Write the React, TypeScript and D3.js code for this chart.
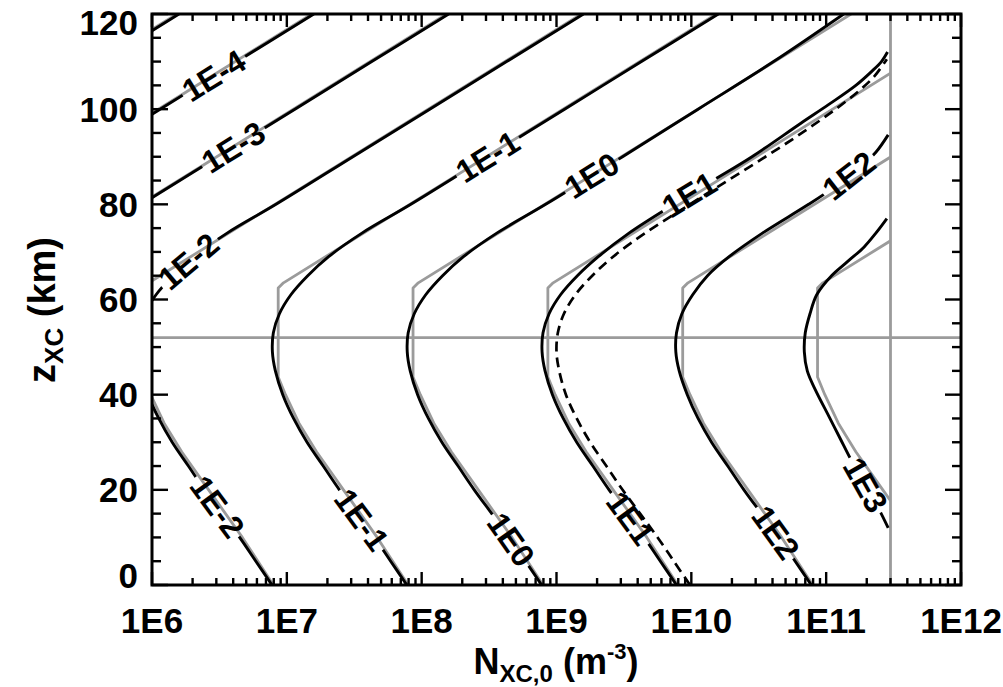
import React from "react";
import * as d3 from "d3";

type P = [number, number]; // [z (km), log10 N (m^-3)]

const X_TICKS = [1e6, 1e7, 1e8, 1e9, 1e10, 1e11, 1e12];
const X_TICK_LABELS = ["1E6", "1E7", "1E8", "1E9", "1E10", "1E11", "1E12"];
const Y_TICKS = [0, 20, 40, 60, 80, 100, 120];
const Y_TICK_LABELS = ["0", "20", "40", "60", "80", "100", "120"];

const N_LIMIT = 3.0e11; // vertical gray line
const Z_LINE = 52; // horizontal gray line

// Black contours (solid)
const BLACK_1Em5: P[] = [[104, 5.29], [110, 5.63], [120, 6.2]];
const BLACK_1Em4: P[] = [[94, 5.72], [100, 6.06], [110, 6.63], [120, 7.2]];
const BLACK_1Em3: P[] = [[74, 5.56], [80, 5.92], [90, 6.49], [100, 7.06], [110, 7.63], [120, 8.2]];
const BLACK_1Em2: P[] = [[0, 6.89], [5, 6.77], [10, 6.65], [15, 6.52], [20, 6.39], [25, 6.27], [30, 6.15], [35, 6.05], [40, 5.97], [45, 5.915], [49, 5.893], [53, 5.9], [57, 5.945], [61, 6.03], [65, 6.155], [69, 6.31], [74, 6.56], [80, 6.92], [90, 7.49], [100, 8.06], [110, 8.63], [120, 9.2]];
const BLACK_1Em1: P[] = [[0, 7.89], [5, 7.77], [10, 7.65], [15, 7.52], [20, 7.39], [25, 7.27], [30, 7.15], [35, 7.05], [40, 6.97], [45, 6.915], [49, 6.893], [53, 6.9], [57, 6.945], [61, 7.03], [65, 7.155], [69, 7.31], [74, 7.56], [80, 7.92], [90, 8.49], [100, 9.06], [110, 9.63], [120, 10.2]];
const BLACK_1E0: P[] = [[0, 8.89], [5, 8.77], [10, 8.65], [15, 8.52], [20, 8.39], [25, 8.27], [30, 8.15], [35, 8.05], [40, 7.97], [45, 7.915], [49, 7.893], [53, 7.9], [57, 7.945], [61, 8.03], [65, 8.155], [69, 8.31], [74, 8.56], [80, 8.92], [90, 9.49], [100, 10.05], [110, 10.61], [120, 11.13]];
const BLACK_1E1: P[] = [[0, 9.89], [5, 9.77], [10, 9.65], [15, 9.52], [20, 9.39], [25, 9.27], [30, 9.15], [35, 9.05], [40, 8.97], [45, 8.915], [49, 8.893], [53, 8.9], [57, 8.945], [61, 9.03], [65, 9.155], [69, 9.31], [74, 9.54], [80, 9.87], [85, 10.16], [90, 10.45], [97, 10.81], [101, 11.02], [105, 11.22], [108, 11.34], [110, 11.41], [112, 11.455]];
const BLACK_1E2: P[] = [[0, 10.89], [5, 10.77], [10, 10.65], [15, 10.52], [20, 10.39], [25, 10.27], [30, 10.15], [35, 10.05], [40, 9.97], [45, 9.91], [49, 9.885], [53, 9.89], [57, 9.93], [61, 10.01], [65, 10.12], [69, 10.28], [74, 10.53], [80, 10.87], [84, 11.08], [88, 11.26], [91, 11.37], [94.6, 11.46]];
const BLACK_1E3: P[] = [[12, 11.46], [16, 11.39], [21, 11.29], [26, 11.19], [31, 11.1], [36, 11.01], [41, 10.92], [45, 10.86], [49, 10.838], [53, 10.845], [57, 10.88], [61, 10.93], [65, 11.04], [68, 11.16], [71, 11.28], [74, 11.37], [77, 11.45]];

// Dashed contour (1E1 variant)
const DASHED_1E1: P[] = [[0, 9.99], [5, 9.87], [10, 9.75], [15, 9.62], [20, 9.49], [25, 9.37], [30, 9.25], [35, 9.15], [40, 9.07], [45, 9.02], [49, 9.0], [53, 9.01], [57, 9.055], [61, 9.14], [65, 9.265], [69, 9.42], [74, 9.66], [80, 9.99], [85, 10.27], [90, 10.55], [95, 10.82], [100, 11.07], [104, 11.25], [107, 11.36], [110.5, 11.45]];

// Gray (approximate) contours
const GRAY_1Em5: P[] = [[100, 5.049], [120, 6.185]];
const GRAY_1Em4: P[] = [[90, 5.481], [120, 7.185]];
const GRAY_1Em3: P[] = [[63.5, 4.975], [120, 8.185]];
const GRAY_1Em2: P[] = [[0, 6.9], [10, 6.67], [20, 6.42], [28, 6.22], [34, 6.09], [40, 5.99], [43.7, 5.936], [62.4, 5.936], [63.5, 5.975], [120, 9.185]];
const GRAY_1Em1: P[] = [[0, 7.9], [10, 7.67], [20, 7.42], [28, 7.22], [34, 7.09], [40, 6.99], [43.7, 6.936], [62.4, 6.936], [63.5, 6.975], [120, 10.185]];
const GRAY_1E0: P[] = [[0, 8.9], [10, 8.67], [20, 8.42], [28, 8.22], [34, 8.09], [40, 7.99], [43.7, 7.936], [62.4, 7.936], [63.5, 7.975], [120, 11.185]];
const GRAY_1E1: P[] = [[0, 9.9], [10, 9.67], [20, 9.42], [28, 9.22], [34, 9.09], [40, 8.99], [43.7, 8.936], [62.4, 8.936], [63.5, 8.975], [120, 12.185]];
const GRAY_1E2: P[] = [[0, 10.9], [10, 10.67], [20, 10.42], [28, 10.22], [34, 10.09], [40, 9.99], [43.7, 9.936], [62.4, 9.936], [63.5, 9.975], [120, 13.185]];
const GRAY_1E3: P[] = [[0, 11.9], [10, 11.67], [20, 11.42], [28, 11.22], [34, 11.09], [40, 10.99], [43.7, 10.936], [62.4, 10.936], [63.5, 10.975], [120, 14.185]];

const LEVELS = ["1E-5", "1E-4", "1E-3", "1E-2", "1E-1", "1E0", "1E1", "1E2", "1E3"];
const BLACK = [BLACK_1Em5, BLACK_1Em4, BLACK_1Em3, BLACK_1Em2, BLACK_1Em1, BLACK_1E0, BLACK_1E1, BLACK_1E2, BLACK_1E3];
const GRAY = [GRAY_1Em5, GRAY_1Em4, GRAY_1Em3, GRAY_1Em2, GRAY_1Em1, GRAY_1E0, GRAY_1E1, GRAY_1E2, GRAY_1E3];

// Contour labels: level and altitude at which the label sits
const LABEL_LEVELS = ["1E-4", "1E-3", "1E-2", "1E-2", "1E-1", "1E-1", "1E0", "1E0", "1E1", "1E1", "1E2", "1E2", "1E3"];
const LABEL_Z = [107, 92, 68, 16.4, 90, 13.7, 86, 9.5, 82, 14, 86, 11, 21];

const W = 1003, H = 687;
const PL = 152, PR = 961, PT = 14, PB = 585;
const FONT = "'Liberation Sans', Arial, Helvetica, sans-serif";
const GRAYC = "#9b9b9b";
const LABEL_SIZE = 32;

const CW: Record<string, number> = { "1": 0.556, E: 0.667, "-": 0.333, "0": 0.556, "2": 0.556, "3": 0.556, "4": 0.556 };
const textWidth = (s: string, size: number) => s.split("").reduce((a, c) => a + (CW[c] ?? 0.556), 0) * size;

function interp(pts: P[], z: number): number {
  if (z <= pts[0][0]) return pts[0][1];
  for (let i = 0; i < pts.length - 1; i++) {
    const [z0, v0] = pts[i];
    const [z1, v1] = pts[i + 1];
    if (z >= z0 && z <= z1) return v0 + ((z - z0) / (z1 - z0)) * (v1 - v0);
  }
  return pts[pts.length - 1][1];
}

export default function App() {
  const x = d3.scaleLog().domain([1e6, 1e12]).range([PL, PR]);
  const y = d3.scaleLinear().domain([0, 120]).range([PB, PT]);
  const smooth = d3
    .line<P>()
    .x((d) => x(Math.pow(10, d[1])))
    .y((d) => y(d[0]))
    .curve(d3.curveCatmullRom.alpha(0.5));
  const straight = d3
    .line<P>()
    .x((d) => x(Math.pow(10, d[1])))
    .y((d) => y(d[0]));

  const xLim = x(N_LIMIT);

  const labels = LABEL_LEVELS.map((lvl, i) => {
    const idx = LEVELS.indexOf(lvl);
    const pts = BLACK[idx];
    const z = LABEL_Z[i];
    const cx = x(Math.pow(10, interp(pts, z)));
    const cy = y(z);
    const ax = x(Math.pow(10, interp(pts, z - 2)));
    const ay = y(z - 2);
    const bx = x(Math.pow(10, interp(pts, z + 2)));
    const by = y(z + 2);
    let dx = bx - ax, dy = by - ay;
    if (dx < 0) { dx = -dx; dy = -dy; }
    const ang = (Math.atan2(dy, dx) * 180) / Math.PI;
    return { idx, text: lvl, cx, cy, ang, w: textWidth(lvl, LABEL_SIZE) };
  });

  // ticks
  const xMinor: { v: number; major: boolean }[] = [];
  for (let d = 6; d < 12; d++) for (let k = 1; k <= 9; k++) xMinor.push({ v: k * Math.pow(10, d), major: k === 1 });
  xMinor.push({ v: 1e12, major: true });
  const yMinor: { v: number; major: boolean }[] = [];
  for (let z = 0; z <= 120; z += 5) yMinor.push({ v: z, major: z % 20 === 0 });

  return (
    <svg width={W} height={H} style={{ position: "absolute", left: 0, top: 0, background: "#fff" }} fontFamily={FONT} fontWeight="bold">
      <defs>
        <clipPath id="plotclip">
          <rect x={PL} y={PT} width={xLim - PL} height={PB - PT} />
        </clipPath>
        {LEVELS.map((lvl, i) => (
          <mask id={`lm${i}`} key={lvl} maskUnits="userSpaceOnUse" x={0} y={0} width={W} height={H}>
            <rect x={0} y={0} width={W} height={H} fill="#fff" />
            {labels
              .filter((l) => l.idx === i)
              .map((l, j) => (
                <rect key={j} x={-l.w / 2 - 3} y={-8} width={l.w + 6} height={16} fill="#000" transform={`translate(${l.cx},${l.cy}) rotate(${l.ang})`} />
              ))}
          </mask>
        ))}
      </defs>
      <rect x={0} y={0} width={W} height={H} fill="#fff" />

      {/* gray approximate contours */}
      <g clipPath="url(#plotclip)">
        {GRAY.map((pts, i) => (
          <path key={i} d={straight(pts) || ""} fill="none" stroke={GRAYC} strokeWidth={2.8} strokeLinejoin="round" />
        ))}
      </g>
      {/* reference lines */}
      <line x1={PL} x2={PR} y1={y(Z_LINE)} y2={y(Z_LINE)} stroke={GRAYC} strokeWidth={2.8} />
      <line x1={xLim} x2={xLim} y1={PT} y2={PB} stroke={GRAYC} strokeWidth={2.8} />

      {/* black contours */}
      <g clipPath="url(#plotclip)">
        {BLACK.map((pts, i) => (
          <path key={i} d={smooth(pts) || ""} fill="none" stroke="#000" strokeWidth={2.9} mask={`url(#lm${i})`} />
        ))}
        <path d={smooth(DASHED_1E1) || ""} fill="none" stroke="#000" strokeWidth={2.7} strokeDasharray="10,6" />
      </g>

      {/* contour labels */}
      {labels.map((l, i) => (
        <text key={i} fontSize={LABEL_SIZE} textAnchor="middle" dominantBaseline="central" transform={`translate(${l.cx},${l.cy}) rotate(${l.ang})`} fill="#000">
          {l.text}
        </text>
      ))}

      {/* frame */}
      <rect x={PL} y={PT} width={PR - PL} height={PB - PT} fill="none" stroke="#000" strokeWidth={3} />
      {xMinor.map((t, i) => {
        const xx = x(t.v);
        const len = t.major ? 13 : 7;
        return (
          <g key={`xt${i}`} stroke="#000" strokeWidth={2.4}>
            <line x1={xx} x2={xx} y1={PB} y2={PB - len} />
            <line x1={xx} x2={xx} y1={PT} y2={PT + len} />
          </g>
        );
      })}
      {yMinor.map((t, i) => {
        const yy = y(t.v);
        const len = t.major ? 16 : 9;
        return (
          <g key={`yt${i}`} stroke="#000" strokeWidth={2.4}>
            <line x1={PL} x2={PL + len} y1={yy} y2={yy} />
            <line x1={PR} x2={PR - len} y1={yy} y2={yy} />
          </g>
        );
      })}

      {/* tick labels */}
      {X_TICKS.map((v, i) => (
        <text key={`xl${i}`} x={x(v)} y={633} fontSize={35} textAnchor="middle">
          {X_TICK_LABELS[i]}
        </text>
      ))}
      {Y_TICKS.map((v, i) => {
        const cy = Math.min(Math.max(y(v), PT + 8), PB - 10);
        return (
          <text key={`yl${i}`} x={138} y={cy + 12.5} fontSize={35} textAnchor="end">
            {Y_TICK_LABELS[i]}
          </text>
        );
      })}

      {/* axis titles */}
      <text x={556} y={674} fontSize={36} textAnchor="middle">
        N<tspan fontSize={24} dy={8}>XC,0</tspan>
        <tspan dy={-8}> (m</tspan>
        <tspan fontSize={22} dy={-15}>-3</tspan>
        <tspan dy={15}>)</tspan>
      </text>
      <text transform="translate(55,310) rotate(-90)" fontSize={38} textAnchor="middle">
        z<tspan fontSize={26} dy={8}>XC</tspan>
        <tspan dy={-8}> (km)</tspan>
      </text>
    </svg>
  );
}
